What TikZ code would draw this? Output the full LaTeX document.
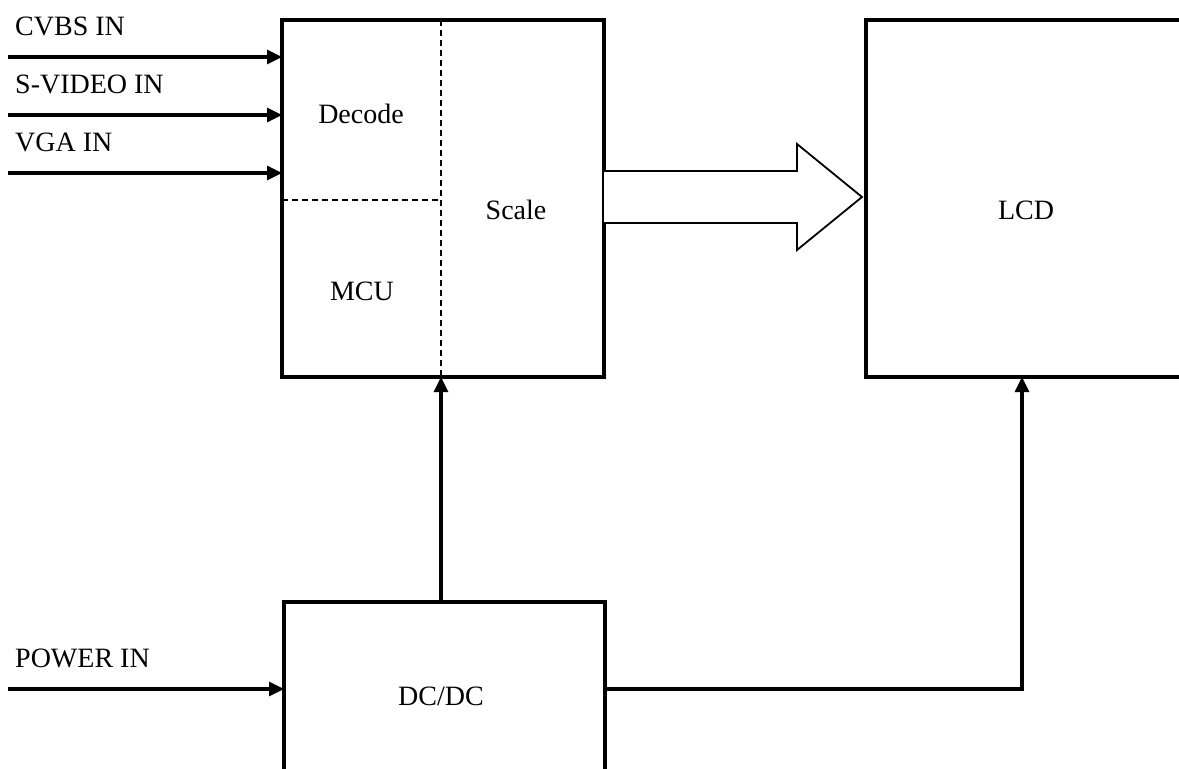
\documentclass[tikz,border=0pt]{standalone}
\usepackage{fontspec}
\setmainfont{Liberation Serif}
\usetikzlibrary{arrows.meta}
\begin{document}
\begin{tikzpicture}[x=1pt,y=-1pt,
  box/.style={draw,line width=3.2pt,rectangle,inner sep=0pt,outer sep=0pt},
  lbl/.style={font=\fontsize{28}{32}\selectfont,inner sep=0pt},
  wire/.style={line width=3.2pt,-{Triangle[length=15pt,width=14pt]}},
  divider/.style={line width=1.4pt,dash pattern=on 6pt off 4pt},
  fat/.style={line width=1.8pt,fill=white,line join=miter}]
\useasboundingbox (0,0) rectangle (1179,769);
% boxes
\node[box,minimum width=322pt,minimum height=357pt] (main) at (443,198.5) {};
\node[box,minimum width=324pt,minimum height=357pt] (lcd) at (1028,198.5) {};
\node[box,minimum width=321pt,minimum height=260pt] (dc) at (444.5,732) {};
% dividers
\coordinate (dvt) at (441,20);
\coordinate (dvb) at (441,377);
\coordinate (dhl) at (282,200);
\coordinate (dhr) at (441,200);
\draw[divider] (dvt) -- (dvb);
\draw[divider] (dhl) -- (dhr);
% texts
\node[lbl] (dec) at (361,114) {Decode};
\node[lbl] (mcu) at (362,291) {MCU};
\node[lbl] (scl) at (516,210) {Scale};
\node[lbl] (lcdt) at (1026,210) {LCD};
\node[lbl] (dct) at (441,696) {DC/DC};
\node[lbl,anchor=west] (cvbs) at (15,26) {CVBS IN};
\node[lbl,anchor=west] (svid) at (15,84) {S-VIDEO IN};
\node[lbl,anchor=west] (vga) at (15,142) {VGA IN};
\node[lbl,anchor=west] (pwr) at (15,658) {POWER IN};
% input arrows
\coordinate (i1) at (8,57);
\coordinate (i2) at (8,115);
\coordinate (i3) at (8,173);
\coordinate (i4) at (8,689);
\draw[wire] (i1) -- (i1 -| main.west);
\draw[wire] (i2) -- (i2 -| main.west);
\draw[wire] (i3) -- (i3 -| main.west);
\draw[wire] (i4) -- (i4 -| dc.west);
% dc to main
\coordinate (dcup) at (441,602);
\draw[wire] (dcup) -- (dvb);
% dc to lcd
\coordinate (lcdin) at (1022,377);
\coordinate (dcout) at (605,689);
\draw[wire] (dcout) -| (lcdin);
% big arrow
\coordinate (a1) at (604,171);
\coordinate (a2) at (797,171);
\coordinate (a3) at (797,144);
\coordinate (a4) at (862,197);
\coordinate (a5) at (797,250);
\coordinate (a6) at (797,223);
\coordinate (a7) at (604,223);
\draw[fat] (a1) -- (a2) -- (a3) -- (a4) -- (a5) -- (a6) -- (a7);
\end{tikzpicture}
\end{document}
